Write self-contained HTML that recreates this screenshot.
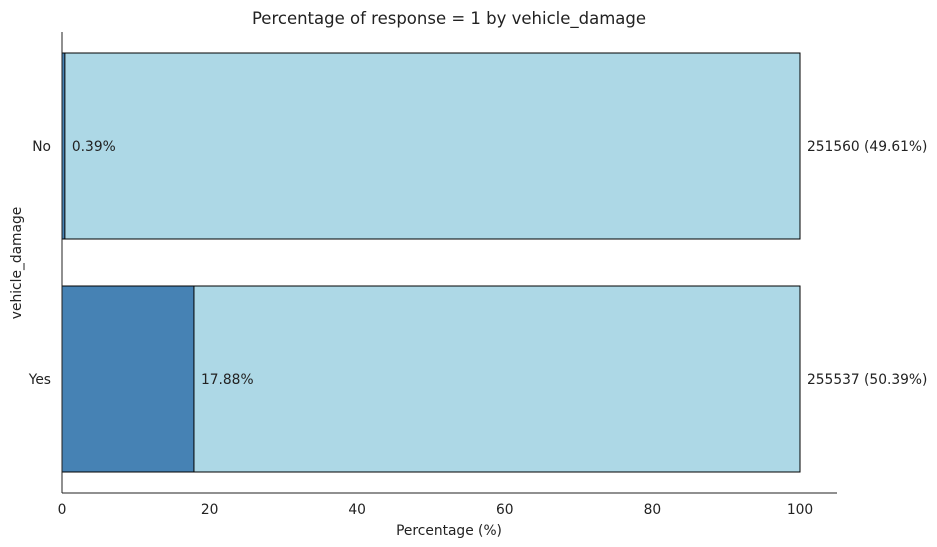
<!DOCTYPE html>
<html><head><meta charset="utf-8"><style>
body{margin:0;background:#fff;}
svg{display:block;font-family:"DejaVu Sans","Liberation Sans",sans-serif;}
</style></head><body>
<svg id="chart" width="937" height="547">
<text x="449" y="24" text-anchor="middle" font-size="16.5" fill="#222">Percentage of response = 1 by vehicle_damage</text>
<g id="bars"></g>
<line x1="62" y1="32" x2="62" y2="493" stroke="#222" stroke-width="1"/>
<line x1="62" y1="493" x2="837" y2="493" stroke="#222" stroke-width="1"/>
<g id="xticks"></g>
<text x="449" y="535" text-anchor="middle" font-size="13.8" fill="#222">Percentage (%)</text>
<text transform="translate(21,263) rotate(-90)" text-anchor="middle" font-size="13.8" fill="#222">vehicle_damage</text>
</svg>
<script>
const categories = ["No","Yes"];
const positivePct = [0.39, 17.88];
const counts = [251560, 255537];
const sharePct = [49.61, 50.39];
const xTicks = [0,20,40,60,80,100];

const ns="http://www.w3.org/2000/svg";
const x = v => 62 + v*7.38;
const yc = i => 146 + i*233;
const bh = 186;
function mk(tag, attrs, parent){const e=document.createElementNS(ns,tag);for(const k in attrs)e.setAttribute(k,attrs[k]);parent.appendChild(e);return e;}
const bars=document.getElementById('bars');
categories.forEach((c,i)=>{
  const top=yc(i)-bh/2;
  const full=mk('rect',{x:x(0),y:top,width:x(100)-x(0),height:bh,fill:'#add8e6',stroke:'#000','stroke-width':1},bars);
  
  
  const pos=mk('rect',{x:x(0),y:top,width:x(positivePct[i])-x(0),height:bh,fill:'#4682b4',stroke:'#000','stroke-width':1},bars);
  
  
  const t=mk('text',{x:x(positivePct[i])+7,y:yc(i)+5,'font-size':13.8,fill:'#222'},bars);
  t.textContent=positivePct[i].toFixed(2)+'%';
  
  
  const t2=mk('text',{x:x(100)+7,y:yc(i)+5,'font-size':13.8,fill:'#222'},bars);
  t2.textContent=counts[i]+' ('+sharePct[i].toFixed(2)+'%)';
  
  
  const yl=mk('text',{x:51,y:yc(i)+5,'font-size':13.8,fill:'#222','text-anchor':'end'},bars);
  yl.textContent=c;
  
  
});
const xt=document.getElementById('xticks');
xTicks.forEach(v=>{
  const t=mk('text',{x:x(v),y:514,'font-size':13.8,fill:'#222','text-anchor':'middle'},xt);
  t.textContent=v;
  
  
});
</script>
</body></html>
